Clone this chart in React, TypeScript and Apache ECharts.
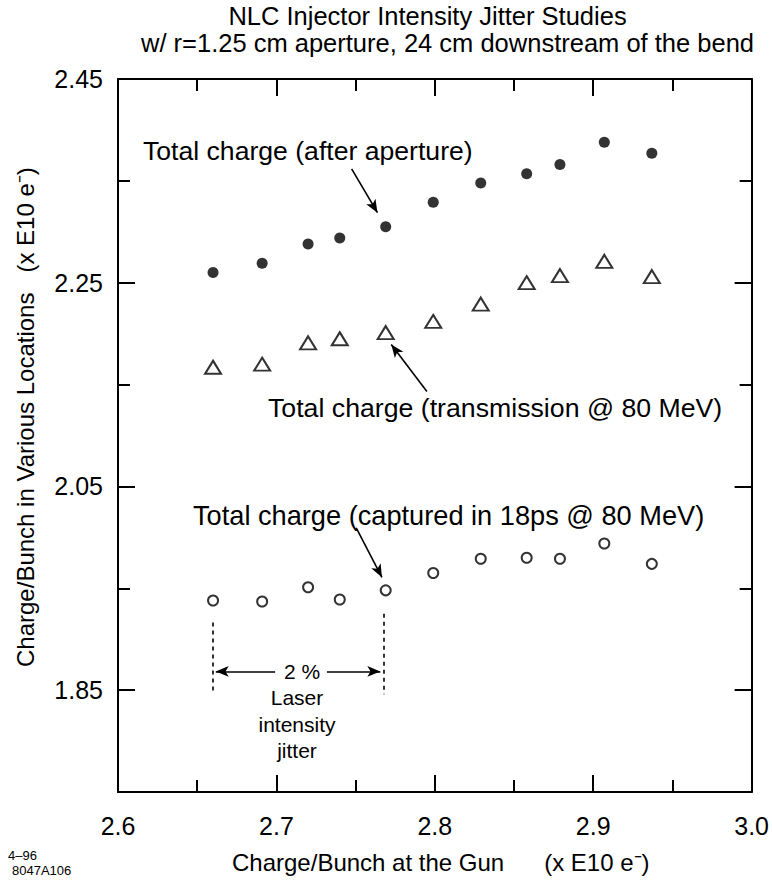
import React, { useEffect, useRef } from "react";
import * as echarts from "echarts";

// ---- data ----
const gunCharge = [2.66, 2.691, 2.72, 2.74, 2.769, 2.799, 2.829, 2.858, 2.879, 2.907, 2.937];
const afterAperture = [2.26, 2.269, 2.288, 2.294, 2.305, 2.329, 2.348, 2.357, 2.366, 2.388, 2.377];
const transmission80 = [2.167, 2.17, 2.191, 2.195, 2.201, 2.212, 2.229, 2.25, 2.257, 2.271, 2.256];
const captured18ps = [1.938, 1.937, 1.951, 1.939, 1.948, 1.965, 1.979, 1.98, 1.979, 1.994, 1.974];

const xMajorTicks = [2.6, 2.7, 2.8, 2.9, 3.0];
const xMinorTicks = [2.65, 2.75, 2.85, 2.95];
const yMajorTicks = [1.85, 2.05, 2.25, 2.45];
const yMinorTicks = [1.75, 1.95, 2.15, 2.35];

// annotation geometry in data units
const arrowAfterAperture = [[2.7475, 2.3618], [2.7638, 2.3188]];
const arrowTransmission = [[2.795, 2.1433], [2.7725, 2.1893]];
const arrowCaptured = [[2.7504, 2.0093], [2.7666, 1.9608]];
const jitterLeftLine = [[2.66, 1.9163], [2.66, 1.8459]];
const jitterRightLine = [[2.768, 1.9251], [2.768, 1.8459]];
const jitterArrowLeft = [[2.6992, 1.8684], [2.6617, 1.8684]];
const jitterArrowRight = [[2.7319, 1.8684], [2.7656, 1.8684]];

const FONT = "'Liberation Sans', Arial, Helvetica, sans-serif";
const BLACK = "#000";

function xAxisDef(position: string, major: boolean, labels: boolean) {
  return {
    type: "value",
    position,
    min: 2.6,
    max: 3.0,
    axisLine: { show: major, onZero: false, lineStyle: { color: BLACK, width: 2 } },
    axisTick: {
      show: true,
      inside: true,
      length: major ? 17 : 12,
      customValues: major ? xMajorTicks : xMinorTicks,
      lineStyle: { color: BLACK, width: 2 },
    },
    axisLabel: {
      show: labels,
      customValues: xMajorTicks,
      formatter: (v: number) => v.toFixed(1),
      margin: 21,
      fontSize: 25,
      fontFamily: FONT,
      color: BLACK,
    },
    splitLine: { show: false },
  };
}

function yAxisDef(position: string, major: boolean, labels: boolean) {
  return {
    type: "value",
    position,
    min: 1.75,
    max: 2.45,
    axisLine: { show: major, onZero: false, lineStyle: { color: BLACK, width: 2 } },
    axisTick: {
      show: true,
      inside: true,
      length: major ? 17 : 12,
      customValues: major ? yMajorTicks : yMinorTicks,
      lineStyle: { color: BLACK, width: 2 },
    },
    axisLabel: {
      show: labels,
      customValues: yMajorTicks,
      formatter: (v: number) => v.toFixed(2),
      margin: 15,
      fontSize: 25,
      fontFamily: FONT,
      color: BLACK,
    },
    splitLine: { show: false },
  };
}

function seg(p: number[][], startSym: string, endSym: string, dashed = false) {
  const ls = { color: BLACK, width: 1.6, type: dashed ? [4, 4] : "solid" };
  return [
    { coord: p[0], symbol: startSym, symbolSize: [8, 13], lineStyle: ls },
    { coord: p[1], symbol: endSym, symbolSize: [8, 13], lineStyle: ls },
  ];
}

function txt(text: string, x: number, y: number, size: number, align = "left", rotation = 0) {
  return {
    type: "text",
    x,
    y,
    rotation,
    silent: true,
    style: {
      text,
      fontSize: size,
      fontFamily: FONT,
      fill: BLACK,
      align,
      verticalAlign: "middle",
    },
  };
}

export default function App() {
  const ref = useRef<HTMLDivElement>(null);

  useEffect(() => {
    if (!ref.current) return;
    const chart = echarts.init(ref.current, undefined, { renderer: "svg" });
    const pts = (ys: number[]) => gunCharge.map((x, i) => [x, ys[i]]);

    chart.setOption({
      animation: false,
      backgroundColor: "#fff",
      grid: { left: 118, top: 79, right: 14.5, bottom: 92, containLabel: false },
      xAxis: [
        xAxisDef("bottom", true, true),
        xAxisDef("top", true, false),
        xAxisDef("bottom", false, false),
        xAxisDef("top", false, false),
      ],
      yAxis: [
        yAxisDef("left", true, true),
        yAxisDef("right", true, false),
        yAxisDef("left", false, false),
        yAxisDef("right", false, false),
      ],
      series: [
        {
          name: "Total charge (after aperture)",
          type: "scatter",
          xAxisIndex: 0,
          yAxisIndex: 0,
          symbol: "circle",
          symbolSize: 11,
          itemStyle: { color: BLACK },
          data: pts(afterAperture),
          markLine: {
            silent: true,
            label: { show: false },
            data: [
              seg(arrowAfterAperture, "none", "arrow"),
              seg(arrowTransmission, "none", "arrow"),
              seg(arrowCaptured, "none", "arrow"),
              seg(jitterLeftLine, "none", "none", true),
              seg(jitterRightLine, "none", "none", true),
              seg(jitterArrowLeft, "none", "arrow"),
              seg(jitterArrowRight, "none", "arrow"),
            ],
          },
        },
        {
          name: "Total charge (transmission @ 80 MeV)",
          type: "scatter",
          xAxisIndex: 0,
          yAxisIndex: 0,
          symbol: "triangle",
          symbolSize: [16, 13],
          itemStyle: { color: "#fff", borderColor: BLACK, borderWidth: 2 },
          data: pts(transmission80),
        },
        {
          name: "Total charge (captured in 18ps @ 80 MeV)",
          type: "scatter",
          xAxisIndex: 0,
          yAxisIndex: 0,
          symbol: "circle",
          symbolSize: 10,
          itemStyle: { color: "#fff", borderColor: BLACK, borderWidth: 2 },
          data: pts(captured18ps),
        },
      ],
      graphic: [
        txt("NLC Injector Intensity Jitter Studies", 427.5, 16, 25.5, "center"),
        txt("w/ r=1.25 cm aperture, 24 cm downstream of the bend", 447.5, 43, 25.5, "center"),
        txt("Total charge (after aperture)", 143, 151, 26.6, "left"),
        txt("Total charge (transmission @ 80 MeV)", 268, 408, 26.7, "left"),
        txt("Total charge (captured in 18ps @ 80 MeV)", 193, 515, 27.2, "left"),
        txt("2 %", 302, 671, 21, "center"),
        txt("Laser", 297, 697, 21, "center"),
        txt("intensity", 297, 724, 21, "center"),
        txt("jitter", 297, 750, 21, "center"),
        txt("Charge/Bunch at the Gun      (x E10 e\u207B)", 232, 862, 24, "left"),
        txt("Charge/Bunch in Various Locations   (x E10 e\u207B)", 25, 667, 24, "left", Math.PI / 2),
        txt("4\u201396", 8, 855, 13, "left"),
        txt("8047A106", 12, 870, 13, "left"),
      ],
    });

    return () => chart.dispose();
  }, []);

  return (
    <div
      ref={ref}
      style={{ position: "fixed", left: 0, top: 0, width: 772, height: 884, background: "#fff" }}
    />
  );
}
